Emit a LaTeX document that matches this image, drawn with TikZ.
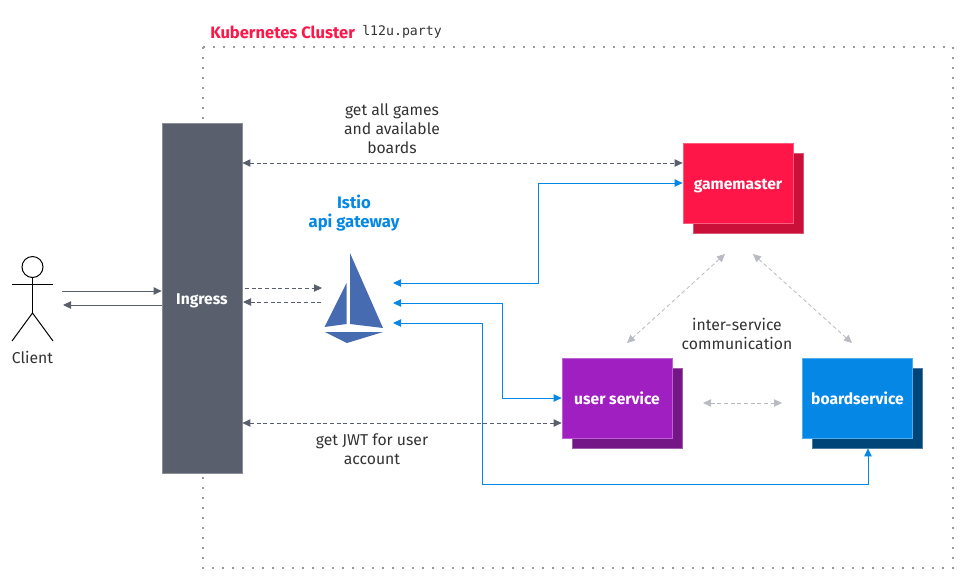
\documentclass[tikz,border=0pt]{standalone}
\usepackage{fontspec}
\setmainfont{Fira Sans}
\setmonofont{DejaVu Sans Mono}
\usetikzlibrary{arrows.meta}
\usetikzlibrary{positioning}

\definecolor{slategrey}{HTML}{595F6C}
\definecolor{textgrey}{HTML}{333333}
\definecolor{softgrey}{HTML}{B9BBC2}
\definecolor{framegrey}{HTML}{9A9A9A}
\definecolor{ibmblue}{HTML}{0587E6}
\definecolor{ibmbluedark}{HTML}{004578}
\definecolor{gmred}{HTML}{FE1648}
\definecolor{gmreddark}{HTML}{CA0F38}
\definecolor{userpurple}{HTML}{A01FC0}
\definecolor{userpurpledark}{HTML}{751686}
\definecolor{istioblue}{HTML}{466BB0}

\begin{document}
\begin{tikzpicture}[x=0.75pt,y=-0.75pt,
    >={Triangle[length=6pt,width=5.5pt]},
    label text/.style={font=\fontsize{11.8}{14.2}\selectfont,text=textgrey,align=center,inner sep=0pt},
    service/.style={rectangle,minimum width=82.5pt,minimum height=60pt,inner sep=0pt,
      text height=9pt,text depth=0pt,font=\fontsize{11.7}{13}\selectfont\bfseries,text=white},
    plain arrow/.style={<-,draw=slategrey,line width=0.75pt},
    dash arrow/.style={draw=slategrey,line width=0.6pt,dash pattern=on 3pt off 2pt},
    grey arrow/.style={<->,draw=softgrey,line width=0.6pt,dash pattern=on 3pt off 2pt},
    blue arrow/.style={draw=ibmblue,line width=0.75pt}]
  \useasboundingbox (0,0) rectangle (972,587);

  % cluster frame
  \draw[framegrey,line width=1.2pt,dash pattern=on 1.2pt off 6.3pt] (203,47) rectangle (953,568);
  \node[anchor=west,inner sep=0pt,font=\fontsize{12.4}{14}\selectfont\bfseries,text=gmred] (clustername) at (210,32) {Kubernetes Cluster};
  \node[anchor=west,inner sep=0pt,font=\fontsize{9.9}{12}\ttfamily,text=textgrey] (clusterhost) at (362,32) {l12u.party};

  % client
  \node[circle,draw=black,line width=0.75pt,minimum size=15.75pt,inner sep=0pt] (head) at (32.5,267) {};
  \coordinate (armleft) at (12,284);
  \coordinate (armright) at (53,284);
  \coordinate (hip) at (32.5,313);
  \coordinate (footleft) at (12,341);
  \coordinate (footright) at (53,341);
  \draw[black,line width=0.75pt] (head) -- (hip);
  \draw[black,line width=0.75pt] (armleft) -- (armright);
  \draw[black,line width=0.75pt] (footleft) -- (hip) -- (footright);
  \node[label text] (client) at (32.5,357) {Client};

  % ingress
  \node[service,fill=slategrey,draw=slategrey!70!white,line width=0.5pt,minimum width=60pt,minimum height=262.5pt] (ingress) at (202,298) {Ingress};

  % services
  \foreach \name/\cx/\cy/\front/\back/\txt in {gamemaster/738/183/gmred/gmreddark/gamemaster,
      userservice/617/398/userpurple/userpurpledark/user service,
      boardservice/857.5/398/ibmblue/ibmbluedark/boardservice} {
    \node[service,fill=\back,draw=\back!70!white,line width=0.5pt] (\name back) at (\cx+10,\cy+10) {};
    \node[service,fill=\front,draw=\front!70!white,line width=0.5pt] (\name) at (\cx,\cy) {\txt};
  }

  % istio logo
  \fill[istioblue] (350,253) -- (383,328) -- (350,324) -- cycle;
  \fill[istioblue] (346.5,283) -- (346.5,324) -- (324.5,327) -- cycle;
  \fill[istioblue] (325,332) -- (383,332) -- (347,343) -- cycle;
  \node[font=\fontsize{12.5}{14.2}\selectfont\bfseries,text=ibmblue,align=center,inner sep=0pt] (istio) at (354,213.5) {Istio\\api gateway};

  % ports at the gateway
  \coordinate (gwstart) at (245,288);
  \coordinate (gwin) at (322,288);
  \coordinate (gwback) at (243,302);
  \coordinate (gwout) at (322,302);
  \coordinate (gwa) at (393,283);
  \coordinate (gwb) at (393,303);
  \coordinate (gwc) at (393,323);
  \coordinate (clientin) at (62,291);
  \coordinate (clientout) at (63,305);

  % client <-> ingress
  \draw[plain arrow] (ingress.west |- clientin) -- (clientin);
  \draw[->,draw=slategrey,line width=0.75pt] (ingress.west |- clientout) -- (clientout);

  % ingress <-> gateway
  \draw[->,dash arrow] (gwstart) -- (gwin);
  \draw[<-,dash arrow] (gwback) -- (gwout);

  % ingress <-> services
  \draw[<->,dash arrow] (ingress.east |- 0,163) -- (gamemaster.west |- 0,163);
  \draw[<->,dash arrow] (ingress.east |- 0,423) -- (userservice.west |- 0,423);

  % gateway <-> services
  \draw[<->,blue arrow] (gwa) -| (538,183) -- (gamemaster.west);
  \draw[<->,blue arrow] (gwb) -| (502,398) -- (userservice.west);
  \draw[<->,blue arrow] (gwc) -| (482,484) -| (boardserviceback.south -| 868,0);

  % inter-service
  \coordinate (gmleft) at (725,254);
  \coordinate (gmright) at (753,254);
  \coordinate (usertop) at (627,343);
  \coordinate (boardtop) at (852,343);
  \coordinate (userright) at (703,403);
  \coordinate (boardleft) at (782,403);
  \draw[grey arrow] (gmleft) -- (usertop);
  \draw[grey arrow] (gmright) -- (boardtop);
  \draw[grey arrow] (userright) -- (boardleft);

  % labels
  \node[label text] (gamesnote) at (392,128.5) {get all games\\and available\\boards};
  \node[label text] (jwtnote) at (372,449.5) {get JWT for user\\account};
  \node[label text] (internote) at (737,334) {inter-service\\communication};
\end{tikzpicture}
\end{document}
